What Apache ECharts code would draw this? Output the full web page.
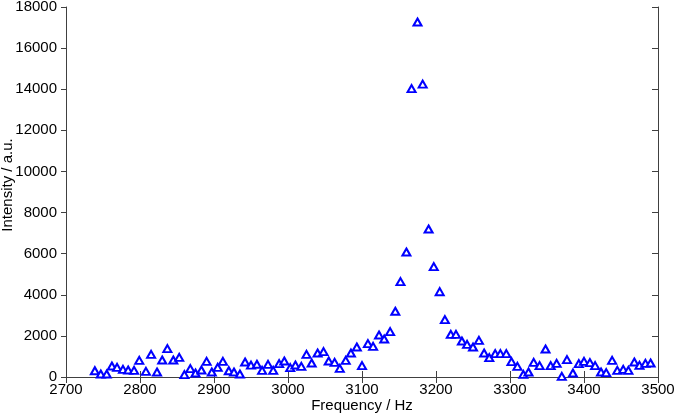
<!DOCTYPE html>
<html><head><meta charset="utf-8">
<script src="https://cdn.jsdelivr.net/npm/echarts@6/dist/echarts.min.js"></script>
<style>html,body{margin:0;padding:0;background:#fff}#c{width:676px;height:417px}</style>
</head><body><div id="c"></div>
<script>
var freq = [2739,2747,2755,2762,2769,2777,2784,2792,2799,2808,2815,2823,2830,2837,2845,2853,2860,2868,2875,2883,2890,2897,2905,2912,2920,2927,2935,2942,2950,2958,2965,2973,2980,2988,2995,3003,3010,3018,3025,3032,3040,3048,3055,3063,3070,3078,3085,3093,3100,3108,3115,3123,3130,3138,3145,3152,3160,3167,3175,3182,3190,3197,3205,3212,3220,3227,3235,3242,3250,3258,3265,3272,3280,3287,3295,3302,3310,3318,3325,3332,3340,3348,3355,3363,3370,3377,3385,3393,3400,3408,3415,3423,3430,3438,3445,3453,3460,3468,3475,3483,3490];
var intensity = [306,146,146,535,470,373,340,320,810,276,1100,243,827,1380,827,956,113,405,195,340,762,243,470,762,306,243,146,730,580,620,324,616,324,649,778,454,584,519,1103,681,1168,1232,778,714,422,810,1168,1459,551,1622,1492,2043,1849,2205,3200,4640,6080,14030,17270,14250,7200,5370,4150,2790,2076,2076,1751,1589,1459,1784,1168,940,1135,1135,1135,746,519,130,243,714,551,1362,551,665,32,843,195,649,762,697,551,243,211,810,324,373,324,730,567,665,681];
var xTicks = [2700,2800,2900,3000,3100,3200,3300,3400,3500];
var yTicks = [0,2000,4000,6000,8000,10000,12000,14000,16000,18000];

var data = freq.map(function(f,i){return [f,intensity[i]];});
var font = 'Liberation Sans, Arial, sans-serif';
var lineStyle = {color:'#404040', width:1};
function plain(v){return String(v);}
var chart = echarts.init(document.getElementById('c'), null, {renderer:'canvas'});
chart.setOption({
  animation:false,
  backgroundColor:'#fff',
  grid:{left:66,right:18,top:7,bottom:40,containLabel:false,outerBoundsMode:'none'},
  xAxis:[{
    type:'value', min:xTicks[0], max:xTicks[xTicks.length-1], interval:100,
    name:'Frequency / Hz', nameLocation:'middle', nameGap:21, nameMoveOverlap:false,
    nameTextStyle:{fontFamily:font,fontSize:15,color:'#000'},
    axisLine:{show:true,lineStyle:lineStyle},
    axisTick:{show:true,inside:true,length:6,lineStyle:lineStyle},
    axisLabel:{fontFamily:font,fontSize:15,color:'#000',margin:5,formatter:plain},
    splitLine:{show:false}
  },{
    type:'value', position:'top', min:xTicks[0], max:xTicks[xTicks.length-1], interval:100,
    axisLine:{show:true,lineStyle:lineStyle},
    axisTick:{show:true,inside:true,length:6,lineStyle:lineStyle},
    axisLabel:{show:false}, splitLine:{show:false}
  }],
  yAxis:[{
    type:'value', min:0, max:18000, interval:2000,
    name:'Intensity / a.u.', nameLocation:'middle', nameGap:51, nameRotate:90, nameMoveOverlap:false,
    nameTextStyle:{fontFamily:font,fontSize:15,color:'#000',padding:[0,0,0,14]},
    axisLine:{show:true,lineStyle:lineStyle},
    axisTick:{show:true,inside:false,length:5,lineStyle:lineStyle},
    axisLabel:{fontFamily:font,fontSize:15,color:'#000',margin:9,formatter:plain},
    splitLine:{show:false}
  },{
    type:'value', position:'right', min:0, max:18000, interval:2000,
    axisLine:{show:true,lineStyle:lineStyle},
    axisTick:{show:true,inside:true,length:6,lineStyle:lineStyle},
    axisLabel:{show:false}, splitLine:{show:false}
  }],
  series:[{
    type:'scatter', xAxisIndex:0, yAxisIndex:0, data:data,
    symbol:'triangle', symbolSize:[8,7],
    itemStyle:{color:'#fff', borderColor:'#0000ff', borderWidth:2, opacity:1}
  }]
});
</script></body></html>
